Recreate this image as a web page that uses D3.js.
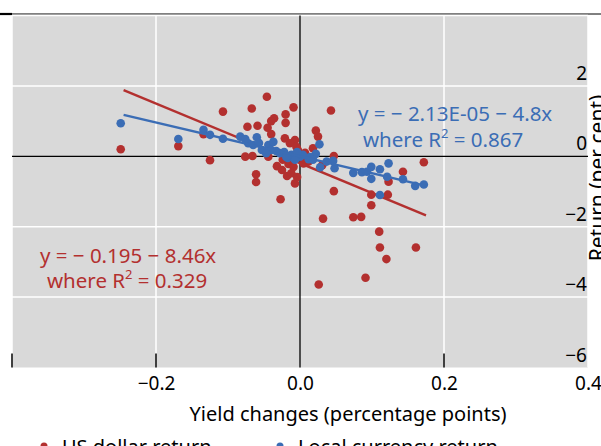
<html>
<head>
<script src="https://d3js.org/d3.v7.min.js"></script>
<style>
  body { margin: 0; background: #fff; }
  text { font-family: 'Noto Sans', sans-serif; }
</style>
</head>
<body>
<div id="chart"></div>
<script>
// yield change (pp) vs return (per cent)
var usdReturn = [
  [-0.249, 0.20], [-0.169, 0.29], [-0.134, 0.63], [-0.125, -0.11], [-0.107, 1.27],
  [-0.046, 1.69], [-0.067, 1.36], [-0.009, 1.39], [-0.036, 1.08], [-0.040, 1.00],
  [-0.020, 1.19], [-0.020, 0.95], [-0.073, 0.84], [-0.059, 0.87], [-0.045, 0.81],
  [-0.040, 0.63], [-0.021, 0.51], [-0.007, 0.46], [-0.014, 0.37], [-0.005, 0.27],
  [-0.076, -0.01], [-0.066, 0.01], [-0.044, -0.01], [-0.016, -0.22], [-0.009, -0.30],
  [-0.018, -0.56], [-0.012, -0.48], [-0.007, -0.77], [-0.061, -0.51], [-0.061, -0.73],
  [-0.027, -1.22], [0.005, -0.20], [0.043, 1.30], [0.022, 0.73], [0.025, 0.56],
  [0.047, 0.01], [0.172, -0.17], [0.143, -0.44], [0.007, 0.10], [0.012, -0.15],
  [0.047, -0.99], [0.099, -1.09], [0.122, -1.09], [0.099, -1.39], [0.032, -1.77],
  [0.074, -1.73], [0.085, -1.72], [0.110, -2.14], [0.111, -2.59], [0.161, -2.59],
  [0.120, -2.92], [0.091, -3.45], [0.026, -3.64], [0.123, -0.72], [-0.003, 0.18],
  [0.006, -0.05], [-0.024, -0.10], [-0.032, -0.28], [-0.025, -0.39], [-0.004, -0.59],
  [0.018, 0.23], [0.031, -0.25]
];
var localReturn = [
  [-0.249, 0.94], [-0.169, 0.49], [-0.134, 0.75], [-0.125, 0.61], [-0.107, 0.50],
  [-0.083, 0.56], [-0.060, 0.54], [-0.072, 0.37], [-0.065, 0.32], [-0.044, 0.32],
  [-0.040, 0.18], [-0.028, 0.09], [-0.012, 0.04], [0.000, -0.01], [0.027, 0.34],
  [0.022, 0.07], [0.012, -0.08], [0.028, -0.31], [0.037, -0.15], [0.046, -0.13],
  [0.048, -0.34], [0.074, -0.47], [0.086, -0.45], [0.093, -0.44], [0.099, -0.30],
  [0.099, -0.64], [0.111, -0.37], [0.123, -0.20], [0.121, -0.58], [0.143, -0.65],
  [0.160, -0.84], [0.172, -0.80], [0.111, -1.10], [-0.053, 0.18], [-0.047, 0.09],
  [-0.033, 0.15], [-0.022, 0.12], [-0.017, -0.05], [-0.007, -0.10], [0.004, 0.04],
  [-0.004, 0.12], [-0.019, -0.02], [0.014, -0.02], [0.018, -0.10], [-0.037, 0.41],
  [-0.057, 0.38], [-0.076, 0.49]
];
// fitted lines: intercept, slope
var usdFit = [-0.195, -8.46];
var localFit = [-0.0000213, -4.8];
var fitRange = [-0.245, 0.175];

var xTicks = [-0.2, 0, 0.2, 0.4];
var xLabels = ["\u22120.2", "0.0", "0.2", "0.4"];
var yTicks = [2, 0, -2, -4, -6];
var yLabels = ["2", "0", "\u22122", "\u22124", "\u22126"];

var red = "#b3302f";
var blue = "#3b6db5";

var width = 601, height = 446;
var x = d3.scaleLinear().domain([-0.4, 0.4]).range([12, 588]);
var y = d3.scaleLinear().domain([-6, 4]).range([367.5, 15.5]);

var svg = d3.select("#chart").append("svg")
    .attr("width", width)
    .attr("height", height);

// top rule
svg.append("line").attr("x1", 0).attr("x2", width).attr("y1", 14).attr("y2", 14)
    .attr("stroke", "#000").attr("stroke-width", 1);
svg.append("line").attr("x1", 0).attr("x2", 12).attr("y1", 14).attr("y2", 14)
    .attr("stroke", "#000").attr("stroke-width", 2.2);

// plot background
svg.append("rect")
    .attr("x", x(-0.4)).attr("y", y(4))
    .attr("width", x(0.4) - x(-0.4)).attr("height", y(-6) - y(4))
    .attr("fill", "#d9d9d9");

// gridlines
svg.append("g").selectAll("line")
    .data([-0.4, -0.2, 0.2, 0.4]).enter().append("line")
    .attr("x1", function(d){ return x(d); }).attr("x2", function(d){ return x(d); })
    .attr("y1", y(4)).attr("y2", y(-6))
    .attr("stroke", "#fff").attr("stroke-width", 1.5);
svg.append("g").selectAll("line")
    .data([4, 2, -2, -4]).enter().append("line")
    .attr("x1", x(-0.4)).attr("x2", x(0.4))
    .attr("y1", function(d){ return y(d); }).attr("y2", function(d){ return y(d); })
    .attr("stroke", "#fff").attr("stroke-width", 1.5);

// zero lines
svg.append("line").attr("x1", x(-0.4)).attr("x2", x(0.4)).attr("y1", y(0)).attr("y2", y(0))
    .attr("stroke", "#000").attr("stroke-width", 1.3);
svg.append("line").attr("x1", x(0)).attr("x2", x(0)).attr("y1", y(4)).attr("y2", y(-6))
    .attr("stroke", "#000").attr("stroke-width", 1.3);

// bottom tick marks
svg.append("g").selectAll("line")
    .data([-0.4, -0.2, 0.2]).enter().append("line")
    .attr("x1", function(d){ return x(d); }).attr("x2", function(d){ return x(d); })
    .attr("y1", y(-6) - 14).attr("y2", y(-6))
    .attr("stroke", "#000").attr("stroke-width", 1.5);

// x axis labels
var xAxis = svg.append("g")
    .attr("transform", "translate(0," + (y(-6)) + ")")
    .call(d3.axisBottom(x).tickValues(xTicks).tickSize(0).tickPadding(9)
        .tickFormat(function(d, i){ return xLabels[i]; }));
xAxis.select(".domain").remove();
xAxis.selectAll("text").attr("font-size", 19).attr("fill", "#000")
    .attr("font-family", "'Noto Sans', sans-serif");

// y axis labels (inside plot, right side)
var yAxis = svg.append("g")
    .attr("transform", "translate(587,-12.5)")
    .call(d3.axisLeft(y).tickValues(yTicks).tickSize(0).tickPadding(0)
        .tickFormat(function(d, i){ return yLabels[i]; }));
yAxis.select(".domain").remove();
yAxis.selectAll("text").attr("font-size", 19).attr("fill", "#000")
    .attr("font-family", "'Noto Sans', sans-serif");

// axis titles
svg.append("text")
    .attr("x", 348).attr("y", 421)
    .attr("text-anchor", "middle")
    .attr("font-size", 20).attr("fill", "#000")
    .text("Yield changes (percentage points)");
svg.append("text")
    .attr("transform", "translate(605,178) rotate(-90)")
    .attr("text-anchor", "middle")
    .attr("font-size", 21).attr("fill", "#000")
    .text("Return (per cent)");

// fitted lines
function fitLine(fit) {
    return fitRange.map(function(v){ return [v, fit[0] + fit[1] * v]; });
}
var line = d3.line()
    .x(function(d){ return x(d[0]); })
    .y(function(d){ return y(d[1]); });

// points
svg.append("g").selectAll("circle")
    .data(usdReturn).enter().append("circle")
    .attr("cx", function(d){ return x(d[0]); })
    .attr("cy", function(d){ return y(d[1]); })
    .attr("r", 4.3).attr("fill", red);

svg.append("path").attr("d", line(fitLine(usdFit)))
    .attr("fill", "none").attr("stroke", red).attr("stroke-width", 2.4);

svg.append("g").selectAll("circle")
    .data(localReturn).enter().append("circle")
    .attr("cx", function(d){ return x(d[0]); })
    .attr("cy", function(d){ return y(d[1]); })
    .attr("r", 4.3).attr("fill", blue);

svg.append("path").attr("d", line(fitLine(localFit)))
    .attr("fill", "none").attr("stroke", blue).attr("stroke-width", 2.4);

// equations
function equation(x0, y0, x1, y1, eq, r2, color) {
    svg.append("text").attr("x", x0).attr("y", y0)
        .attr("font-size", 20.5).attr("fill", color).text(eq);
    var t = svg.append("text").attr("x", x1).attr("y", y1)
        .attr("font-size", 20.5).attr("fill", color);
    t.append("tspan").text("where R");
    t.append("tspan").attr("dy", -9).attr("font-size", 13).text("2");
    t.append("tspan").attr("dy", 9).text(" = " + r2);
}
equation(358, 121, 363, 147, "y = \u2212 2.13E-05 \u2212 4.8x", "0.867", blue);
equation(40, 263, 47, 288, "y = \u2212 0.195 \u2212 8.46x", "0.329", red);

// legend (cut off at bottom edge)
var legend = [["US dollar return", red, 44], ["Local currency return", blue, 280]];
legend.forEach(function(l){
    svg.append("circle").attr("cx", l[2]).attr("cy", 446).attr("r", 3.5).attr("fill", l[1]);
    svg.append("text").attr("x", l[2] + 18).attr("y", 454)
        .attr("font-size", 20).attr("fill", "#000").text(l[0]);
});
</script>
</body>
</html>
